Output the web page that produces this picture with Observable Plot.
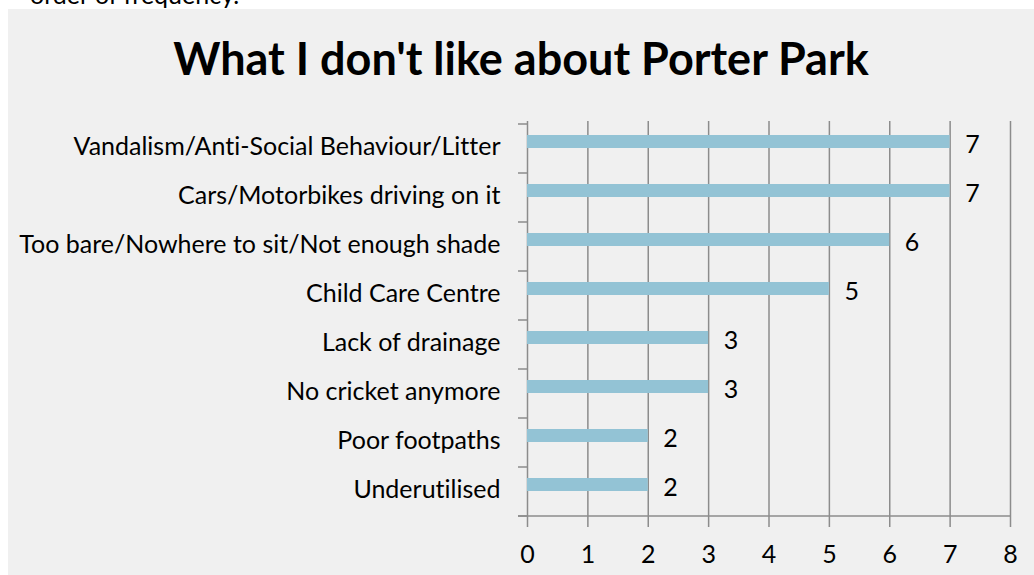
<!DOCTYPE html>
<html>
<head>
<meta charset="utf-8">
<script src="https://cdn.jsdelivr.net/npm/d3@7"></script>
<script src="https://cdn.jsdelivr.net/npm/@observablehq/plot@0.6"></script>
<style>
  html, body { margin: 0; padding: 0; background: #ffffff; }
  body { width: 1034px; height: 575px; overflow: hidden; position: relative; font-family: Lato, "Open Sans", sans-serif; font-variant-ligatures: none; }
  svg, svg text { font-variant-ligatures: none; }
  #above { position: absolute; left: 30px; top: -21px; font-size: 25px; line-height: 1.2; color: #000; white-space: nowrap; }
  #panel { position: absolute; left: 8px; top: 9px; width: 1026px; height: 566px; background: #f0f0f0; overflow: hidden; }
  #title { position: absolute; left: 0; top: 22px; width: 1026px; text-align: center; font-weight: bold; font-size: 45px; line-height: 54px; color: #000; white-space: nowrap; }
  #chart { position: absolute; left: 0; top: 100px; }
</style>
</head>
<body>
<div id="above">order of frequency.</div>
<div id="panel">
  <div id="title">What I don't like about Porter Park</div>
  <div id="chart"></div>
</div>
<script>
const categories = [
  "Vandalism/Anti-Social Behaviour/Litter",
  "Cars/Motorbikes driving on it",
  "Too bare/Nowhere to sit/Not enough shade",
  "Child Care Centre",
  "Lack of drainage",
  "No cricket anymore",
  "Poor footpaths",
  "Underutilised"
];
const counts = [7, 7, 6, 5, 3, 3, 2, 2];
const xTicks = [0, 1, 2, 3, 4, 5, 6, 7, 8];

const data = categories.map((c, i) => ({category: c, count: counts[i]}));

const axisGray = "#8c8c8c";

function yBoundaryTicks(index, scales, values, dims) {
  const y = scales.y;
  let bw = typeof y.bandwidth === "function" ? y.bandwidth() : y.bandwidth;
  if (!(bw > 0)) bw = (dims.height - dims.marginTop - dims.marginBottom) / categories.length;
  const x0 = scales.x(xTicks[0]);
  const x1 = scales.x(xTicks[xTicks.length - 1]);
  const ys = categories.map(c => y(c));
  const bottom = y(categories[categories.length - 1]) + bw;
  ys.push(bottom);
  const g = d3.create("svg:g").attr("stroke", axisGray).attr("stroke-width", 1.5);
  for (const yy of ys) {
    g.append("line").attr("x1", x0 - 9).attr("x2", x0).attr("y1", yy).attr("y2", yy);
  }
  g.append("line").attr("x1", x0 - 9).attr("x2", x1).attr("y1", bottom).attr("y2", bottom);
  return g.node();
}

const chart = Plot.plot({
  width: 1026,
  height: 466,
  marginTop: 12,
  marginBottom: 56,
  marginLeft: 519,
  marginRight: 24,
  style: {background: "transparent", fontFamily: "Lato, 'Open Sans', sans-serif", fontSize: "25px", color: "#000", fontVariantLigatures: "none"},
  x: {domain: [0, 8], ticks: xTicks},
  y: {domain: categories, padding: 0},
  marks: [
    Plot.ruleX(xTicks, {stroke: axisGray, strokeWidth: 1.5}),
    Plot.barX(data, {x: "count", y: "category", fill: "#93c3d5", insetTop: 11, insetBottom: 25}),
    Plot.text(data, {x: "count", y: "category", text: d => String(d.count), textAnchor: "start", dx: 15, dy: -4, fontSize: 25, fill: "#000"}),
    Plot.axisX({ticks: xTicks, tickSize: 8, tickPadding: 18, stroke: axisGray, strokeWidth: 1.5, fontSize: 25, label: null}),
    Plot.axisY({tickSize: 0, tickPadding: 27, fontSize: 25, dy: -2, label: null}),
    yBoundaryTicks
  ]
});
document.getElementById("chart").appendChild(chart);
</script>
</body>
</html>
